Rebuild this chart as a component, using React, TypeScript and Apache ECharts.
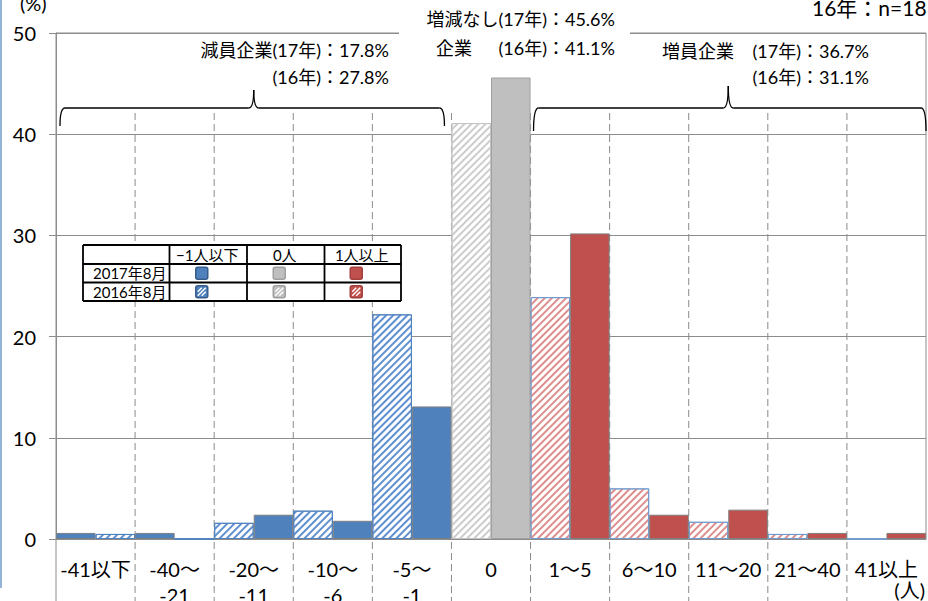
import { useEffect, useRef } from "react";
import * as echarts from "echarts";

// Employee-count change buckets (people)
const categories = [
  "-41以下",
  "-40～\n-21",
  "-20～\n-11",
  "-10～\n-6",
  "-5～\n-1",
  "0",
  "1～5",
  "6～10",
  "11～20",
  "21～40",
  "41以上",
];

// Share of companies (%) by survey
const values2016 = [0.5, 0, 1.6, 2.8, 22.2, 41.1, 23.9, 5.0, 1.7, 0.5, 0];
const values2017 = [0.6, 0.6, 2.4, 1.8, 13.1, 45.6, 30.2, 2.4, 2.9, 0.6, 0.6];

// Which colour family each bucket belongs to
const groupOf = ["dec", "dec", "dec", "dec", "dec", "flat", "inc", "inc", "inc", "inc", "inc"];

// In the first two buckets the 2017 bar sits in the left slot
const solid2017First = [true, true, false, false, false, false, false, false, false, false, false];

const Y_MIN = 0;
const Y_MAX = 50;
const Y_STEP = 10;

const legendRows = ["2017年8月", "2016年8月"];
const legendCols = ["−1人以下", "0人", "1人以上"];
const legendGroups = ["dec", "flat", "inc"];

const FONT = "Lato, 'Noto Sans CJK JP', sans-serif";

const palette: Record<string, any> = {
  dec: { solid: "#4f81bd", solidEdge: "#7f7f7f", hatch: "#5f8fd0", hatchEdge: "#4f81bd", swatchEdge: "#385d8a" },
  flat: { solid: "#bfbfbf", solidEdge: "#a0a0a0", hatch: "#cdcdcd", hatchEdge: "#c4c4c4", swatchEdge: "#a0a0a0" },
  inc: { solid: "#c0504d", solidEdge: "#7f7f7f", hatch: "#de8e8c", hatchEdge: "#6f9bd1", swatchEdge: "#a33f3c" },
};

const hatchDecal = (color: string) => ({
  symbol: "rect",
  symbolSize: 1,
  dashArrayX: [1, 0],
  dashArrayY: [2, 2.5],
  rotation: -Math.PI / 4,
  color,
});

function barItem(value: number, group: string, hatched: boolean) {
  const p = palette[group];
  return hatched
    ? { value, itemStyle: { color: "#ffffff", borderColor: p.hatchEdge, borderWidth: 1, decal: hatchDecal(p.hatch) } }
    : { value, itemStyle: { color: p.solid, borderColor: p.solidEdge, borderWidth: 1 } };
}

const leftSlot = categories.map((_, i) =>
  solid2017First[i] ? barItem(values2017[i], groupOf[i], false) : barItem(values2016[i], groupOf[i], true)
);
const rightSlot = categories.map((_, i) =>
  solid2017First[i] ? barItem(values2016[i], groupOf[i], true) : barItem(values2017[i], groupOf[i], false)
);

const AXIS_GRAY = "#8c8c8c";

function text(t: string, x: number, y: number, align: string, size = 18, z = 10) {
  return {
    type: "text",
    x,
    y,
    z,
    style: {
      text: t,
      textAlign: align,
      textVerticalAlign: "middle",
      fontSize: size,
      fontFamily: FONT,
      fill: "#000",
    },
  };
}

function brace(xl: number, xr: number, xp: number, yTop: number, yLine: number, yEnd: number) {
  const r = 5;
  const s = 5;
  const st = { stroke: "#000", lineWidth: 1.3, fill: null };
  const z = 5;
  return [
    { type: "bezierCurve", z, shape: { x1: xl, y1: yEnd, cpx1: xl, cpy1: yLine, x2: xl + r, y2: yLine }, style: st },
    { type: "line", z, shape: { x1: xl + r, y1: yLine, x2: xp - s, y2: yLine }, style: st },
    { type: "bezierCurve", z, shape: { x1: xp - s, y1: yLine, cpx1: xp, cpy1: yLine, x2: xp, y2: yTop }, style: st },
    { type: "bezierCurve", z, shape: { x1: xp, y1: yTop, cpx1: xp, cpy1: yLine, x2: xp + s, y2: yLine }, style: st },
    { type: "line", z, shape: { x1: xp + s, y1: yLine, x2: xr - r, y2: yLine }, style: st },
    { type: "bezierCurve", z, shape: { x1: xr - r, y1: yLine, cpx1: xr, cpy1: yLine, x2: xr, y2: yEnd }, style: st },
  ];
}

function swatch(cx: number, cy: number, group: string, hatched: boolean) {
  const p = palette[group];
  const x0 = cx - 6;
  const y0 = cy - 6;
  const items: any[] = [
    {
      type: "rect",
      z: 12,
      shape: { x: x0, y: y0, width: 12, height: 12, r: 2 },
      style: { fill: p.solid, stroke: p.swatchEdge, lineWidth: 1.5 },
    },
  ];
  if (hatched) {
    const ws = { stroke: "#ffffff", lineWidth: 1.4 };
    items.push(
      { type: "line", z: 13, shape: { x1: x0 + 2, y1: y0 + 10, x2: x0 + 10, y2: y0 + 2 }, style: ws },
      { type: "line", z: 13, shape: { x1: x0 + 2, y1: y0 + 6, x2: x0 + 6, y2: y0 + 2 }, style: ws },
      { type: "line", z: 13, shape: { x1: x0 + 6, y1: y0 + 10, x2: x0 + 10, y2: y0 + 6 }, style: ws }
    );
  }
  return items;
}

function legendTable() {
  const xs = [83, 169.5, 247, 324.5, 401];
  const ys = [245, 264, 282.5, 301];
  const line = { stroke: "#000", lineWidth: 1.8 };
  const els: any[] = [
    { type: "rect", z: 10, shape: { x: xs[0], y: ys[0], width: xs[4] - xs[0], height: ys[3] - ys[0] }, style: { fill: "#fff" } },
  ];
  ys.forEach((y) => els.push({ type: "line", z: 11, shape: { x1: xs[0], y1: y, x2: xs[4], y2: y }, style: line }));
  xs.forEach((x) => els.push({ type: "line", z: 11, shape: { x1: x, y1: ys[0], x2: x, y2: ys[3] }, style: line }));
  legendCols.forEach((c, j) => {
    els.push(text(c, (xs[j + 1] + xs[j + 2]) / 2 - 1, (ys[0] + ys[1]) / 2, "center", 15, 12));
  });
  legendRows.forEach((r, i) => {
    const cy = (ys[i + 1] + ys[i + 2]) / 2;
    els.push(text(r, xs[1] - 3, cy, "right", 15, 12));
    legendGroups.forEach((g, j) => {
      const cx = (xs[j + 1] + xs[j + 2]) / 2 - 6.5;
      els.push(...swatch(cx, cy, g, i === 1));
    });
  });
  return els;
}

export default function App() {
  const ref = useRef<HTMLDivElement>(null);

  useEffect(() => {
    const el = ref.current!;
    const chart = echarts.init(el, undefined, { renderer: "svg" });

    chart.setOption({
      animation: false,
      grid: {
        left: 56,
        right: 2,
        top: 33,
        bottom: 62,
        containLabel: false,
        outerBoundsMode: "none",
        show: true,
        borderColor: AXIS_GRAY,
        borderWidth: 1,
        backgroundColor: "transparent",
      },
      xAxis: {
        type: "category",
        data: categories,
        axisLine: { show: true, lineStyle: { color: AXIS_GRAY, width: 1 } },
        axisTick: { show: false },
        splitLine: { show: false },
        axisLabel: {
          interval: 0,
          margin: 17,
          fontSize: 20,
          lineHeight: 26,
          fontFamily: FONT,
          color: "#000",
        },
      },
      yAxis: {
        type: "value",
        min: Y_MIN,
        max: Y_MAX,
        interval: Y_STEP,
        axisLine: { show: true, lineStyle: { color: AXIS_GRAY, width: 1 } },
        axisTick: { show: true, length: 7, lineStyle: { color: AXIS_GRAY } },
        splitLine: { show: true, lineStyle: { color: AXIS_GRAY, width: 1 } },
        axisLabel: { margin: 20, fontSize: 20, fontFamily: FONT, color: "#000" },
      },
      series: [
        { type: "bar", data: leftSlot, barGap: "0%", barCategoryGap: "0%", z: 3 },
        { type: "bar", data: rightSlot, barGap: "0%", barCategoryGap: "0%", z: 3 },
      ],
    });

    const cx = (i: number) => chart.convertToPixel({ xAxisIndex: 0 }, i) as number;
    const yv = (v: number) => chart.convertToPixel({ yAxisIndex: 0 }, v) as number;
    const w = cx(1) - cx(0);
    const b = (k: number) => cx(0) - w / 2 + k * w;
    const yZero = yv(0);
    const H = 601;

    const els: any[] = [];

    // thin border line at the very left of the page
    els.push({ type: "rect", z: 1, shape: { x: 0, y: 0, width: 2, height: 588 }, style: { fill: "#95b3d7" } });

    // bucket separators, continuing into the label area
    for (let k = 1; k < categories.length; k++) {
      els.push({
        type: "line",
        z: 1,
        shape: { x1: b(k), y1: 113, x2: b(k), y2: H },
        style: { stroke: "#8a8a8a", lineWidth: 1, lineDash: [7, 4] },
      });
    }
    // value axis extended below zero
    els.push({ type: "line", z: 1, shape: { x1: b(0), y1: yZero, x2: b(0), y2: H }, style: { stroke: AXIS_GRAY, lineWidth: 1 } });

    // braces over the decrease / increase groups
    els.push(...brace(b(0) + 4, b(5) - 7, cx(2), 90, 108, 126));
    els.push(...brace(b(6) + 3, b(11), cx(8), 86, 108, 131));

    // group summaries
    els.push(text("減員企業(17年)：17.8%", 389, 50, "right"));
    els.push(text("(16年)：27.8%", 389, 77, "right"));

    els.push({ type: "rect", z: 9, shape: { x: 399, y: 2, width: 231, height: 60 }, style: { fill: "#fff" } });
    els.push(text("増減なし(17年)：45.6%", 615, 19, "right"));
    els.push(text("企業", 436, 48, "left"));
    els.push(text("(16年)：41.1%", 615, 48, "right"));

    els.push(text("増員企業", 662, 51, "left"));
    els.push(text("(17年)：36.7%", 869, 51, "right"));
    els.push(text("(16年)：31.1%", 869, 77, "right"));

    els.push(text("16年：n=18", 812, 7, "left", 21));
    els.push(text("(%)", 20, 3, "left", 20));
    els.push(text("(人)", 925, 590, "right", 20));

    els.push(...legendTable());

    chart.setOption({ graphic: els });

    return () => chart.dispose();
  }, []);

  return <div ref={ref} style={{ position: "fixed", left: 0, top: 0, width: 928, height: 601, background: "#fff" }} />;
}
